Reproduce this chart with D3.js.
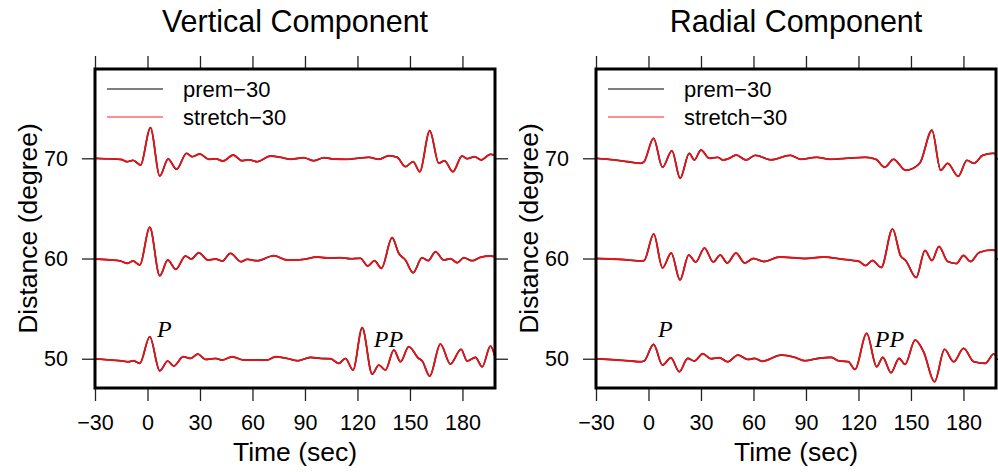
<!DOCTYPE html>
<html>
<head>
<meta charset="utf-8">
<script src="https://cdn.jsdelivr.net/npm/d3@7"></script>
<style>
  body { margin: 0; background: #fff; }
  svg { display: block; font-family: "Liberation Sans", Arial, sans-serif; }
</style>
</head>
<body>
<svg id="chart" width="998" height="472"></svg>
<script>
// x ticks (sec) and distances (degree)
const timeTicks = [-30, 0, 30, 60, 90, 120, 150, 180];
const distances = [70, 60, 50];
const seriesNames = ["prem\u221230", "stretch\u221230"];
const panelTitles = ["Vertical Component", "Radial Component"];
const phaseLabels = [
  { text: "P", t: 5.5, d: 52.15 },
  { text: "PP", t: 129.3, d: 51.17 }
];

// traces: [time, offset from distance in degree]
const vertical70 = [[-30,0],[-22,-0.05],[-15,-0.12],[-11.6,-0.34],[-8.2,-0.2],[-4,-0.67],[1.7,3.06],[7,-1.77],[11.8,-0.07],[16.6,-1.1],[22.3,0.5],[25.5,0.16],[29.9,0.43],[35,-0.1],[39,-0.05],[43.2,-0.27],[49,0.33],[54,-0.24],[58,-0.15],[62.7,-0.34],[70.3,0.23],[76,0.1],[81.7,-0.1],[89.3,0.06],[95,-0.24],[100.8,0.06],[106.5,-0.07],[114.1,-0.1],[119.8,0],[126.5,0.1],[132.2,-0.1],[137.9,0.26],[142.7,0.1],[147.4,-0.84],[151.8,-0.34],[155.6,-1.34],[161.3,2.76],[166.5,-0.5],[169.7,-0.24],[174.5,-1.34],[179.8,0.23],[182.7,-0.04],[186.9,0.16],[190.7,-0.17],[196,0.4],[198.6,0.26]];
const vertical60 = [[-30,-0.05],[-21,-0.15],[-15.4,-0.25],[-11.6,-0.48],[-8.2,-0.25],[-4.4,-0.65],[1.3,3.12],[7,-1.72],[11.6,-0.15],[16.2,-1.08],[21.7,0.25],[25.1,-0.05],[29.3,0.58],[34.5,-0.15],[38.9,-0.05],[42.7,-0.25],[47.4,0.52],[53.5,-0.32],[57,-0.08],[62.7,-0.22],[72.2,0.28],[79.8,-0.15],[85.5,-0.15],[89.3,-0.08],[97,0.15],[102.7,0.05],[110.3,0.08],[116,-0.02],[121.7,0.02],[125.9,-0.75],[129.7,-0.22],[133.7,-0.98],[139.8,2.08],[143.6,0.52],[147.4,-0.15],[151.8,-1.42],[156.9,0.08],[160.4,-0.22],[164.6,0.68],[169.3,-0.15],[173.1,-0.02],[177,-0.42],[180.8,0.08],[185.5,-0.22],[190.3,0.12],[196,0.25],[198.6,0.18]];
const vertical50 = [[-30,0],[-21,-0.13],[-15.4,-0.2],[-10.7,-0.3],[-8.2,-0.2],[-4.4,-0.46],[1.3,2.2],[7,-1.2],[11.6,-0.23],[15,-0.73],[20.4,0.2],[24.6,0.03],[28.8,0.47],[33.1,-0.07],[38.9,0.03],[42.7,-0.13],[48.4,0.2],[55,-0.13],[62.7,-0.13],[68.4,-0.13],[73.1,0.2],[79.8,0.03],[86,-0.2],[93.1,0.14],[98.9,0.03],[104.6,0],[109.3,-0.46],[113.1,0.03],[117.5,-1.13],[122.7,3.1],[128.4,-1.53],[132.2,-0.63],[136,-1.13],[140.8,0.87],[144.6,-0.3],[149.3,1.2],[155,0.03],[156.9,-0.2],[161.3,-1.73],[167.4,1.47],[173.1,-0.53],[179.2,0.94],[182.7,-0.23],[187.4,0.14],[191.3,-0.8],[196,1.27],[198.6,0.2]];
const radial70 = [[-30,0],[-20,-0.15],[-12.1,-0.33],[-4.4,-0.5],[-2.5,-0.33],[2.9,2.0],[8,-0.9],[13.4,0.76],[18.1,-2.0],[23.3,0.5],[26.2,-0.17],[30,0.83],[34.8,0],[39.6,0.1],[42.5,-0.17],[46.2,0],[50.1,0.33],[55.8,-0.17],[61,0.3],[70,-0.15],[81,0.3],[87,-0.1],[96,0.1],[104,-0.1],[113,0],[124,0.1],[130,-0.1],[135,-0.9],[140,-0.1],[147,-1.2],[155,-0.5],[162,2.8],[167,-1.2],[171,-0.5],[177,-1.8],[182,-0.2],[186,-0.5],[191,0.3],[197,0.5],[198.6,0.45]];
const radial60 = [[-30,0],[-15,-0.1],[-4.4,-0.25],[-2.5,-0.2],[3,2.45],[8,-0.95],[13,0.55],[18,-2.15],[23,0.35],[27,-0.35],[32,1.05],[37,-0.35],[41,0.35],[45,-0.45],[50,0.55],[55,-0.45],[60,0],[66,-0.3],[75,0.15],[90,0],[100,0.15],[110,-0.05],[117,-0.2],[120.5,-0.3],[124,-0.7],[128,-0.2],[133,-0.9],[139.5,2.95],[144,0.3],[147,-0.2],[153,-1.9],[158,0.8],[162,-0.2],[166,1.2],[171,-0.3],[176,-0.5],[180,0.3],[184,-0.3],[189,0.6],[196,0.85],[198.6,0.8]];
const radial50 = [[-30,0],[-20,-0.1],[-12,-0.2],[-4.4,-0.3],[-2.5,-0.23],[2.9,1.43],[8,-0.63],[12.8,0.1],[17.6,-1.3],[22.4,0.04],[26.2,-0.23],[31,0.5],[35.7,0],[40.5,0.1],[45.3,-0.3],[51.1,0.37],[56.8,-0.07],[60.6,0.04],[65,-0.25],[75.9,0.37],[83.5,0.14],[89.3,-0.2],[97,0.04],[104.6,0.14],[108.4,-0.2],[114.2,-0.3],[118,-1.06],[124.7,2.54],[130.4,-0.8],[133.9,0.14],[138.6,-1.4],[143.2,0.04],[146.6,-0.56],[152.4,1.87],[157.2,0.7],[163.5,-2.3],[169.2,0.94],[174.4,-0.3],[180.1,1.04],[185.9,-0.3],[192.5,-0.46],[197.3,0.47],[198.6,0.3]];

// both models overlap at this scale, red drawn over black
const panels = [
  { title: panelTitles[0], prem: [vertical70, vertical60, vertical50], stretch: [vertical70, vertical60, vertical50] },
  { title: panelTitles[1], prem: [radial70, radial60, radial50], stretch: [radial70, radial60, radial50] }
];

const svg = d3.select("#chart");
const panelW = 400, plotTop = 69, plotBottom = 388;
const panelLefts = [95, 596];

panels.forEach((p, i) => {
  const left = panelLefts[i];
  const x = d3.scaleLinear().domain([-30, 198.6]).range([left, left + panelW]);
  const y = d3.scaleLinear().domain([47.08, 78.91]).range([plotBottom, plotTop]);

  const g = svg.append("g");

  // title
  g.append("text")
    .attr("x", left + panelW / 2).attr("y", 32)
    .attr("text-anchor", "middle")
    .attr("font-size", 30.5)
    .text(p.title);

  // traces
  const line = d => d3.line()
    .x(v => x(v[0]))
    .y(v => y(d + v[1]))
    .curve(d3.curveMonotoneX);

  const clipId = "clip" + i;
  svg.append("clipPath").attr("id", clipId)
    .append("rect").attr("x", left).attr("y", plotTop).attr("width", panelW).attr("height", plotBottom - plotTop);

  const traces = g.append("g").attr("clip-path", `url(#${clipId})`);
  [["prem", "#000", 1.6], ["stretch", "#e4141a", 1.8]].forEach(([key, color, w]) => {
    p[key].forEach((tr, k) => {
      traces.append("path")
        .attr("fill", "none")
        .attr("stroke", color)
        .attr("stroke-width", w)
        .attr("d", line(distances[k])(tr));
    });
  });

  // phase labels
  phaseLabels.forEach(l => {
    g.append("text")
      .attr("x", x(l.t)).attr("y", y(l.d))
      .attr("font-family", "Liberation Serif, Times New Roman, serif")
      .attr("font-style", "italic")
      .attr("font-size", 24)
      .text(l.text);
  });

  // axes
  const fmt = d3.format("d");
  const bottomAxis = g.append("g").attr("transform", `translate(0,${plotBottom})`)
    .call(d3.axisBottom(x).tickValues(timeTicks).tickSize(13).tickPadding(14).tickFormat(fmt));
  const topAxis = g.append("g").attr("transform", `translate(0,${plotTop})`)
    .call(d3.axisTop(x).tickValues(timeTicks).tickSize(13).tickFormat(""));
  const leftAxis = g.append("g").attr("transform", `translate(${left},0)`)
    .call(d3.axisLeft(y).tickValues(distances).tickSize(13).tickPadding(14).tickFormat(fmt));
  const rightAxis = g.append("g").attr("transform", `translate(${left + panelW},0)`)
    .call(d3.axisRight(y).tickValues(distances).tickSize(13).tickFormat(""));

  [bottomAxis, topAxis, leftAxis, rightAxis].forEach(a => {
    a.select(".domain").remove();
    a.selectAll(".tick line").attr("stroke", "#222").attr("stroke-width", 1.3);
    a.selectAll(".tick text").attr("font-size", 21.5).attr("fill", "#000")
      .attr("font-family", "Liberation Sans, Arial, sans-serif");
  });

  // frame
  g.append("rect")
    .attr("x", left).attr("y", plotTop).attr("width", panelW).attr("height", plotBottom - plotTop)
    .attr("fill", "none").attr("stroke", "#000").attr("stroke-width", 3);

  // axis titles
  g.append("text")
    .attr("x", left + panelW / 2).attr("y", 461)
    .attr("text-anchor", "middle").attr("font-size", 26.5)
    .text("Time (sec)");
  g.append("text")
    .attr("transform", `translate(${left - 58},${(plotTop + plotBottom) / 2}) rotate(-90)`)
    .attr("text-anchor", "middle").attr("font-size", 26.5)
    .text("Distance (degree)");

  // legend
  const legend = g.append("g");
  seriesNames.forEach((name, k) => {
    const ly = 89 + k * 28;
    legend.append("line")
      .attr("x1", left + 12).attr("x2", left + 68)
      .attr("y1", ly).attr("y2", ly)
      .attr("stroke", k === 0 ? "#000" : "#ff2020").attr("stroke-width", 1.2);
    legend.append("text")
      .attr("x", left + 88).attr("y", ly).attr("dy", "0.35em")
      .attr("font-size", 22)
      .text(name);
  });
});
</script>
</body>
</html>
